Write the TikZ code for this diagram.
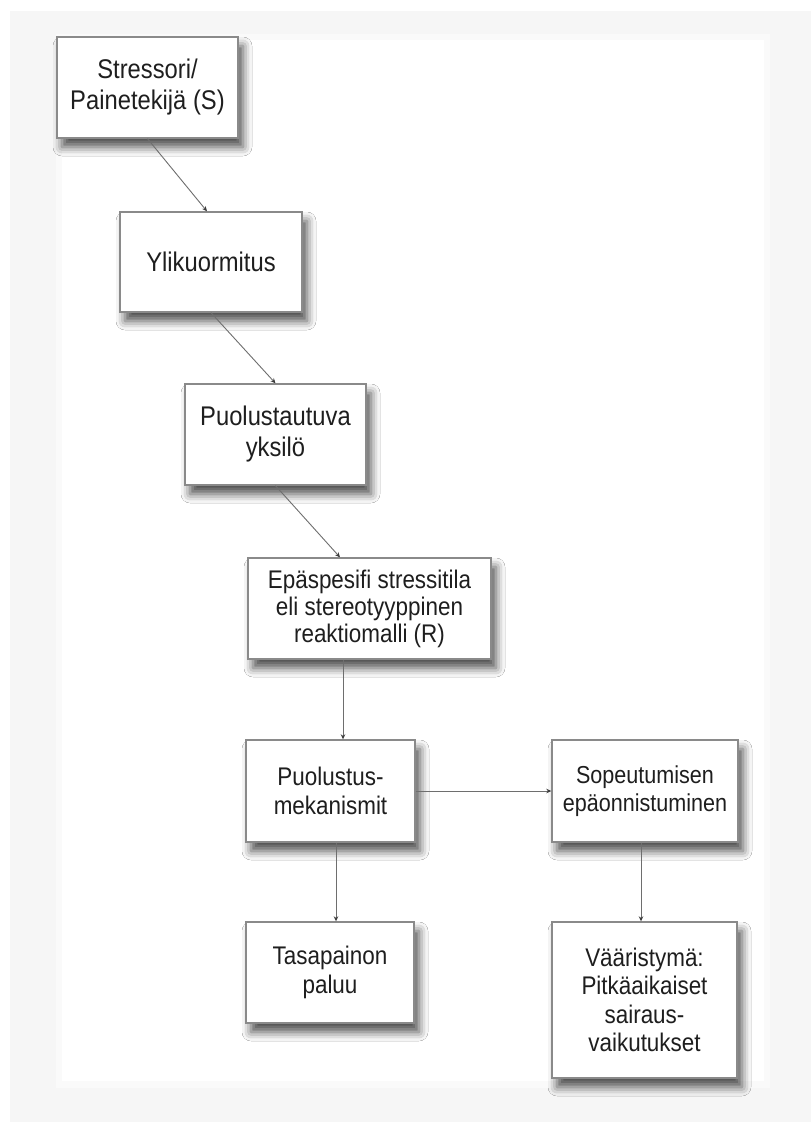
\documentclass[tikz,border=0pt]{standalone}
\usepackage{fontspec}
\setmainfont[FakeStretch=0.88]{Liberation Sans}
\usetikzlibrary{shadows.blur,arrows.meta}
\definecolor{pagegray}{HTML}{F6F6F6}
\definecolor{pagemid}{HTML}{FAFAFA}
\definecolor{boxline}{HTML}{8A8A8A}
\definecolor{linkline}{HTML}{6E6E6E}
\definecolor{tipink}{HTML}{3C3C3C}
\definecolor{inkblack}{HTML}{1E1E1E}
\tikzset{
  box/.style={draw=boxline, line width=1.4pt, fill=white, align=center,
    text=inkblack, inner sep=0pt,
    blur shadow={shadow xshift=5pt, shadow yshift=-9pt,
      shadow blur radius=9pt, shadow opacity=70}},
  link/.style={draw=linkline, line width=0.9pt,
    -{Stealth[length=5pt,width=4.5pt,color=tipink]}},
  txt/.style={font=\fontsize{25.5}{28.5}\selectfont},
  bigtxt/.style={font=\fontsize{27}{31}\selectfont}
}
\begin{document}
\begin{tikzpicture}[x=1pt,y=-1pt]
\useasboundingbox (0,0) rectangle (811,1122);
% page background with a pale frame
\fill[white] (0,0) rectangle (811,1122);
\fill[pagegray] (10,11) rectangle (811,1122);
\fill[pagemid] (56,34) rectangle (770,1088);
\fill[white] (62,40) rectangle (764,1081);

% boxes
\node[box, bigtxt, minimum width=181, minimum height=101] (s) at (147.5,87.5)
  {Stressori/\\Painetekijä (S)};
\node[box, bigtxt, minimum width=182, minimum height=100] (y) at (211,262)
  {Ylikuormitus};
\node[box, bigtxt, minimum width=181, minimum height=101] (p) at (275.5,434.5)
  {Puolustautuva\\yksilö};
\node[box, txt, font=\fontsize{25.5}{27}\selectfont, minimum width=243, minimum height=101] (r) at (369.5,608.5)
  {Epäspesifi stressitila\\eli stereotyyppinen\\reaktiomalli (R)};
\node[box, txt, minimum width=169, minimum height=102] (m) at (330.5,791)
  {Puolustus-\\mekanismit};
\node[box, txt, font=\fontsize{24.5}{28.5}\selectfont, minimum width=186, minimum height=102] (f) at (645,791)
  {Sopeutumisen\\epäonnistuminen};
\node[box, txt, minimum width=168, minimum height=101] (t) at (330,972.5)
  {Tasapainon\\paluu};
\node[box, txt, minimum width=185, minimum height=156] (v) at (644.5,1000)
  {Vääristymä:\\Pitkäaikaiset\\sairaus-\\vaikutukset};

% guide points for the vertical links
\coordinate (rm) at (343,700);
\coordinate (mt) at (336,880);
\coordinate (fv) at (641,880);

% links
\draw[link] (s.south) -- ([xshift=-4pt]y.north);
\draw[link] (y.south) -- (p.north);
\draw[link] (p.south) -- ([xshift=-29.5pt]r.north);
\draw[link] (r.south -| rm) -- (m.north -| rm);
\draw[link] (m.east) -- (f.west);
\draw[link] (m.south -| mt) -- (t.north -| mt);
\draw[link] (f.south -| fv) -- (v.north -| fv);
\end{tikzpicture}
\end{document}
